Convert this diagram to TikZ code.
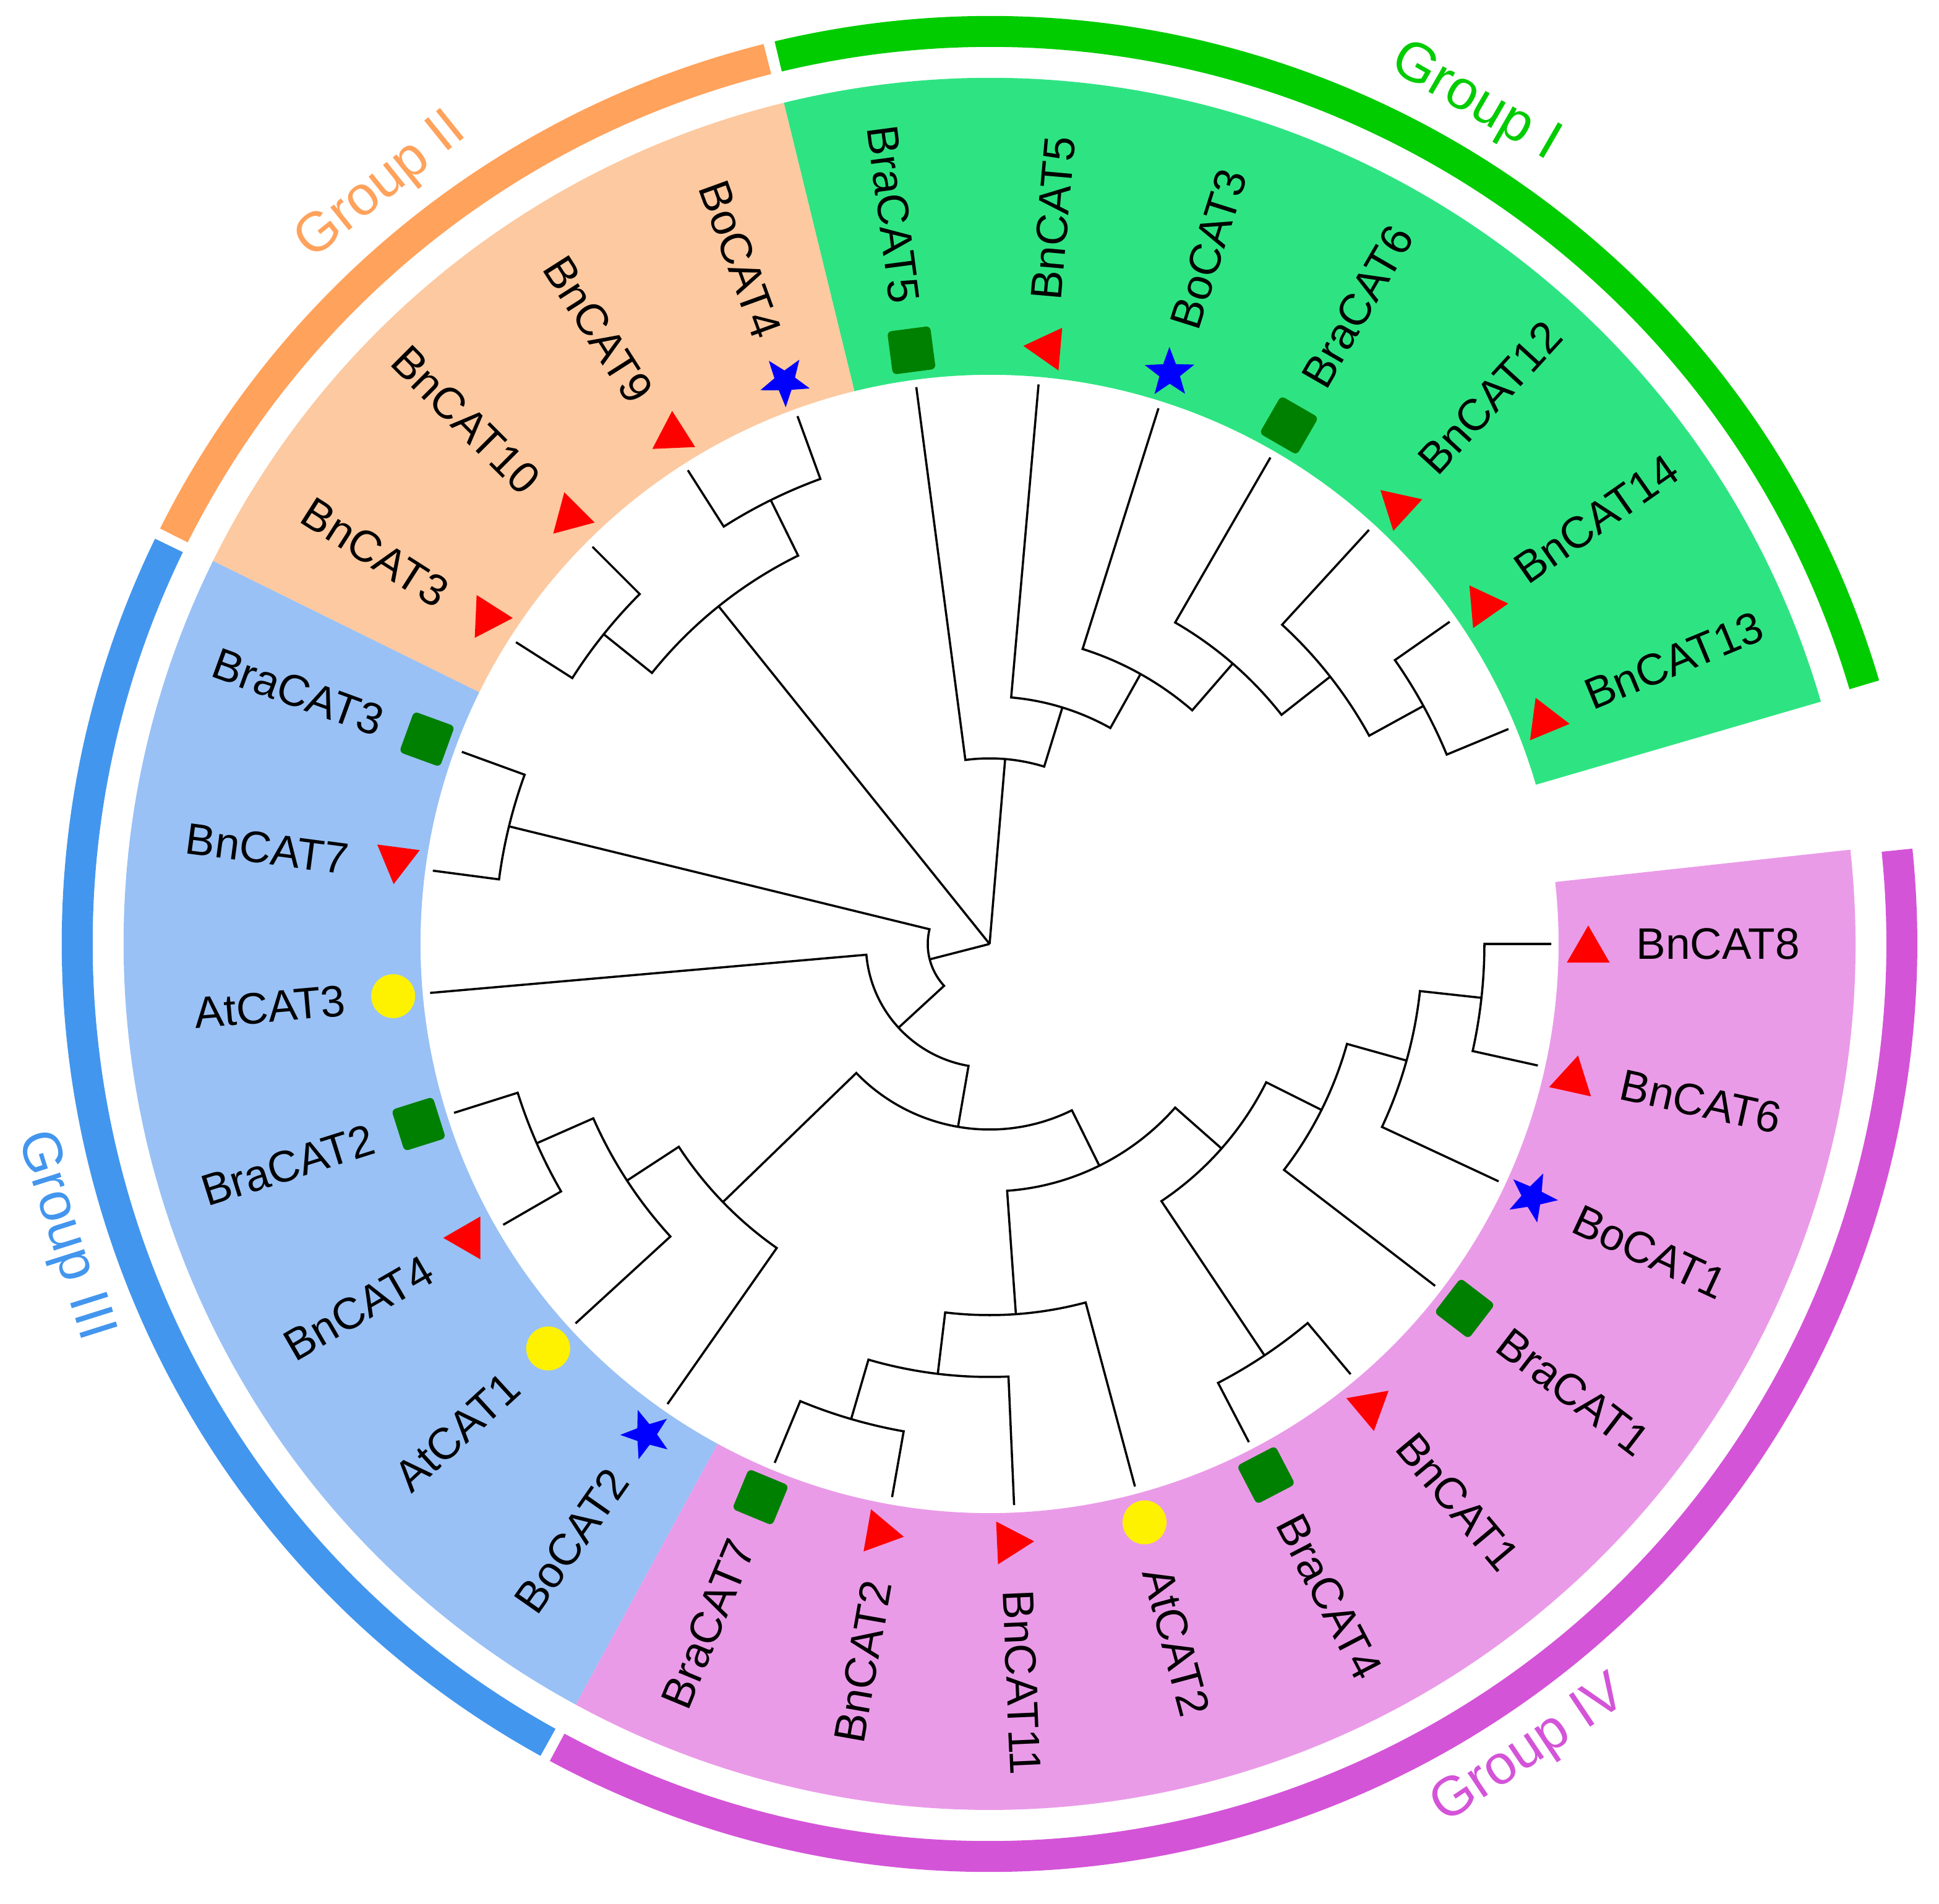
\documentclass[tikz,border=0pt]{standalone}
\usepackage{fontspec}
\setmainfont{Liberation Sans}
\usetikzlibrary{shapes.geometric}

\definecolor{grpone}{RGB}{0,204,0}
\definecolor{grptwo}{RGB}{255,162,92}
\definecolor{grpthree}{RGB}{67,150,238}
\definecolor{grpfour}{RGB}{212,84,216}
\definecolor{secone}{RGB}{46,228,130}
\definecolor{sectwo}{RGB}{253,201,160}
\definecolor{secthree}{RGB}{153,193,245}
\definecolor{secfour}{RGB}{234,155,232}
\definecolor{sqgreen}{RGB}{0,128,0}

\newcommand{\clade}[6]{%
  \coordinate (#1) at ({(#3+#5)/2}:#6);
  \draw[branch] (#2) -- (#3:#6) arc[start angle=#3, end angle=#5, radius=#6] -- (#4);
}
\newcommand{\grpsector}[3]{%
  \fill[#1] (#2:9.2) arc[start angle=#2, end angle=#3, radius=9.2]
    -- (#3:14) arc[start angle=#3, end angle=#2, radius=14] -- cycle;
}
\newcommand{\grpband}[3]{%
  \draw[#1,line width=0.5cm] (#2:14.75) arc[start angle=#2, end angle=#3, radius=14.75];
}
\def\offbntri{-0.6}
\def\offbrasq{0}
\def\offbostar{0}
\def\offatdot{0}

\begin{document}
\begin{tikzpicture}
 \tikzstyle{branch}=[line width=1pt]
 \tikzstyle{bntri}=[regular polygon,regular polygon sides=3,fill=red,inner sep=0pt,minimum size=0.8cm]
 \tikzstyle{brasq}=[rectangle,fill=sqgreen,rounded corners=2pt,inner sep=0pt,minimum size=0.7cm]
 \tikzstyle{bostar}=[star,star points=5,star point ratio=2.4,fill=blue,inner sep=0pt,minimum size=0.84cm]
 \tikzstyle{atdot}=[circle,fill=yellow,inner sep=0pt,minimum size=0.71cm]
 \tikzstyle{leaflab}=[inner sep=0pt,font=\fontsize{20.3}{21}\selectfont]
 \tikzstyle{grplab}=[inner sep=0pt,font=\fontsize{25.5}{27}\selectfont]
\useasboundingbox (-16.00,-15.51) rectangle (15.35,15.26);

\grpsector{secone}{16.25}{103.75}
\grpsector{sectwo}{103.75}{153.75}
\grpsector{secthree}{153.75}{241.45}
\grpsector{secfour}{-118.55}{6.25}

\grpband{grpone}{16.5}{103.4}
\grpband{grptwo}{104.1}{153.4}
\grpband{grpthree}{154.1}{241.05}
\grpband{grpfour}{-118.3}{5.9}

\node[grplab,text=grpone,rotate=-30] (gI) at (60:15.7) {Group I};
\node[grplab,text=grptwo,rotate=38.75] (gII) at (128.75:15.7) {Group II};
\node[grplab,text=grpthree,rotate=-72.5] (gIII) at (197.5:15.7) {Group III};
\node[grplab,text=grpfour,rotate=33.8] (gIV) at (-56.2:15.7) {Group IV};

\foreach \i/\lab/\kind in {0/BnCAT8/bntri,1/BnCAT6/bntri,2/BoCAT1/bostar,3/BraCAT1/brasq,
  4/BnCAT1/bntri,5/BraCAT4/brasq,6/AtCAT2/atdot,7/BnCAT11/bntri,8/BnCAT2/bntri,
  9/BraCAT7/brasq,10/BoCAT2/bostar,11/AtCAT1/atdot,12/BnCAT4/bntri,13/BraCAT2/brasq,
  14/AtCAT3/atdot,15/BnCAT7/bntri,16/BraCAT3/brasq,17/BnCAT3/bntri,18/BnCAT10/bntri,
  19/BnCAT9/bntri,20/BoCAT4/bostar,21/BraCAT5/brasq,22/BnCAT5/bntri,23/BoCAT3/bostar,
  24/BraCAT6/brasq,25/BnCAT12/bntri,26/BnCAT14/bntri,27/BnCAT13/bntri}{
  \pgfmathsetmacro\a{-12.5*\i}
  \edef\off{\csname off\kind\endcsname}
  \pgfmathsetmacro\sa{\a+\off}
  \coordinate (t\i) at (\a:9.08);
  \node[\kind,rotate=\a] (s\i) at (\sa:9.68) {};
  \pgfmathtruncatemacro\rt{or(\a>-90,\a<-270)}
  \ifnum\rt=1
    \node[leaflab,anchor=west,rotate=\a] (l\i) at (\a:10.45) {\lab};
  \else
    \node[leaflab,anchor=east,rotate=\a+180] (l\i) at (\a:10.45) {\lab};
  \fi
}

\clade{a1}{t0}{0}{t1}{-12.5}{8}
\clade{a2}{t2}{-25}{a1}{-6.25}{7}
\clade{a3}{t3}{-37.5}{a2}{-15.625}{6}
\clade{a4}{t4}{-50}{t5}{-62.5}{8}
\clade{x}{a4}{-56.25}{a3}{-26.5625}{5}
\clade{w3}{t8}{-100}{t9}{-112.5}{8}
\clade{w2}{t7}{-87.5}{w3}{-106.25}{7}
\clade{w}{t6}{-75}{w2}{-96.875}{6}
\clade{r4}{x}{-41.40625}{w}{-85.9375}{4}
\clade{b1}{t12}{-150}{t13}{-162.5}{8}
\clade{b2}{t11}{-137.5}{b1}{-156.25}{7}
\clade{b3}{t10}{-125}{b2}{-146.875}{6}
\clade{r3}{b3}{-135.9375}{r4}{-63.671875}{3}
\clade{r2}{t14}{-175}{r3}{-99.8046875}{2}
\clade{c1}{t15}{-187.5}{t16}{-200}{8}
\clade{rr}{c1}{-193.75}{r2}{-137.40234375}{1}
\clade{d1}{t17}{-212.5}{t18}{-225}{8}
\clade{d2}{t19}{-237.5}{t20}{-250}{8}
\clade{g2}{d1}{-218.75}{d2}{-243.75}{7}
\clade{e1}{t26}{-325}{t27}{-337.5}{8}
\clade{e2}{t25}{-312.5}{e1}{-331.25}{7}
\clade{e3}{t24}{-300}{e2}{-321.875}{6}
\clade{e4}{t23}{-287.5}{e3}{-310.9375}{5}
\clade{e5}{t22}{-275}{e4}{-299.21875}{4}
\clade{g1}{t21}{-262.5}{e5}{-287.109375}{3}
\coordinate (root) at (0,0);
\draw[branch] (root) -- (g1);
\draw[branch] (root) -- (g2);
\draw[branch] (root) -- (rr);
\end{tikzpicture}
\end{document}
